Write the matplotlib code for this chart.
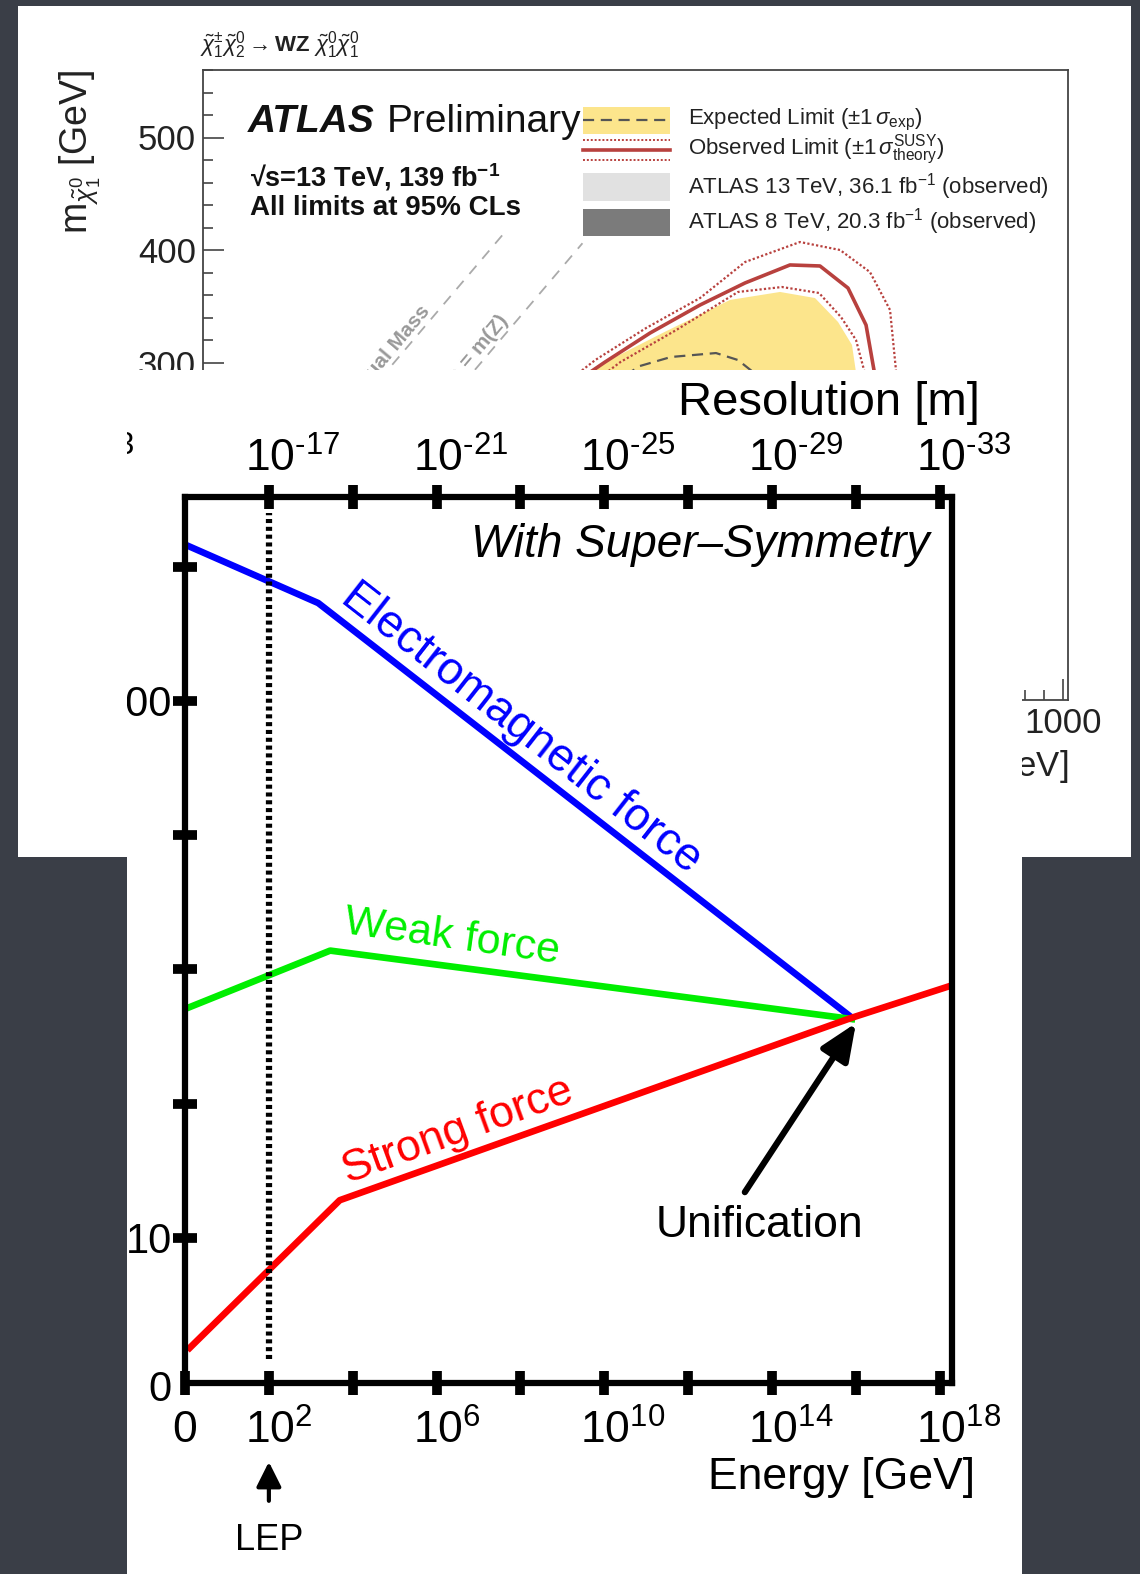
import matplotlib
matplotlib.use('Agg')
import matplotlib.pyplot as plt
from matplotlib.patches import Rectangle
from matplotlib.transforms import Bbox, TransformedBbox, ScaledTranslation
from matplotlib.ticker import FixedLocator, MultipleLocator, NullLocator, FuncFormatter

plt.rcParams['font.family'] = ['Liberation Sans', 'DejaVu Sans']
plt.rcParams['mathtext.fontset'] = 'custom'
plt.rcParams['mathtext.rm'] = 'Liberation Sans'
plt.rcParams['mathtext.it'] = 'Liberation Sans:italic'
plt.rcParams['mathtext.bf'] = 'Liberation Sans:bold'

W, H = 1140, 1574

# ---------------- unification plot (energy in GeV, inverse strength) ----------------
em_energy = [1.1, 1.5e3, 8e15]
em_inverse = [61.6, 57.3, 26.4]
weak_energy = [1.1, 2.9e3, 8e15]
weak_inverse = [27.1, 31.4, 26.3]
strong_energy = [1.3, 4.9e3, 8e15, 1.9e18]
strong_inverse = [1.8, 12.8, 26.4, 28.8]
lep_energy = 1e2
lep_range = [1.0, 64.0]
unification_point = (1e16, 26.0)

energy_ticks = [1e0, 1e2, 1e4, 1e6, 1e8, 1e10, 1e12, 1e14, 1e16, 1e18]
energy_labels = ['0', '$10^{2}$', '', '$10^{6}$', '', '$10^{10}$', '', '$10^{14}$', '', '$10^{18}$']
resolution_labels = ['$10^{\u201017}$', '', '$10^{\u201021}$', '', '$10^{\u201025}$', '',
                     '$10^{\u201029}$', '', '$10^{\u201033}$']
inverse_ticks = [10, 20, 30, 40, 50, 60]
inverse_labels = ['10', '', '', '', '100', '']

# ---------------- ATLAS background plot (GeV) ----------------
obs_x = [470.0, 520.6, 567.7, 620.0, 667.1, 714.1, 745.5, 774.8, 793.7, 802.0, 804.1]
obs_y = [271.1, 300.4, 326.2, 351.1, 370.7, 386.7, 385.8, 366.2, 333.3, 293.3, 266.7]
obs_up_x = [463.5, 510.4, 563.7, 620.0, 667.1, 724.6, 766.5, 797.8, 818.8, 825.0, 826.1]
obs_up_y = [271.1, 302.2, 330.7, 357.3, 389.3, 407.1, 400.0, 380.4, 346.7, 293.3, 266.7]
obs_dn_x = [490.9, 536.7, 595.2, 659.7, 705.8, 744.5, 767.5, 783.2, 791.6, 793.7]
obs_dn_y = [271.1, 300.4, 328.9, 362.7, 367.1, 361.8, 340.4, 320.0, 293.3, 266.7]
band_x = [475.2, 521.1, 580.7, 651.4, 703.7, 740.3, 764.4, 779.0, 787.4, 780, 700, 600, 520, 470]
band_y = [271.1, 300.4, 326.2, 355.6, 362.7, 357.3, 336.0, 315.6, 266.7, 230, 215, 220, 240, 255]
exp_x = [525.8, 557.2, 589.6, 636.7, 659.7, 675.4, 682.8]
exp_y = [280.0, 296.9, 304.9, 308.4, 302.2, 291.6, 280.0]
equal_mass_x = [150, 416]
mz_line_x = [250, 497]
z_mass = 91

legend_labels = [r'Expected Limit ($\pm1\,\sigma_{\mathrm{exp}}$)',
                 r'Observed Limit ($\pm1\,\sigma^{\mathrm{SUSY}}_{\mathrm{theory}}$)',
                 r'ATLAS 13 TeV, 36.1 fb$^{-1}$ (observed)',
                 r'ATLAS 8 TeV, 20.3 fb$^{-1}$ (observed)']

yellow = '#fce58c'
obs_red = '#b8413e'


def fig_box(x0, y0, x1, y1):
    # pixel box with top-left origin -> figure fraction rect
    return [x0 / W, 1 - y1 / H, (x1 - x0) / W, (y1 - y0) / H]


fig = plt.figure(figsize=(W / 100, H / 100), dpi=100)
fig.patch.set_facecolor('#3a3e47')

# white slide image behind
fig.add_artist(Rectangle((18 / W, 1 - 857 / H), (1131 - 18) / W, (857 - 6) / H,
                         transform=fig.transFigure, facecolor='white', edgecolor='none', zorder=0))

atlas = fig.add_axes(fig_box(203, 70, 1068, 700))
atlas.set_zorder(1)
atlas.set_xlim(100, 1005)
atlas.set_ylim(0, 560)
atlas.fill(band_x, band_y, color=yellow, lw=0)
atlas.plot(exp_x, exp_y, color='#555555', lw=1.6, ls=(0, (5, 3)))
atlas.plot(obs_up_x, obs_up_y, color=obs_red, lw=1.6, ls=(0, (1, 1)))
atlas.plot(obs_dn_x, obs_dn_y, color=obs_red, lw=1.6, ls=(0, (1, 1)))
atlas.plot(obs_x, obs_y, color=obs_red, lw=2.6)
atlas.plot(equal_mass_x, equal_mass_x, color='#aaaaaa', lw=1.3, ls=(0, (6, 5)))
atlas.plot(mz_line_x, [x - z_mass for x in mz_line_x], color='#aaaaaa', lw=1.3, ls=(0, (6, 5)))
atlas.text(341, 343, 'Equal Mass', color='#999999', fontsize=15, fontweight='bold',
           rotation=50, rotation_mode='anchor', ha='right', va='bottom')
atlas.text(425, 334, r'$\Delta$m = m(Z)', color='#999999', fontsize=15, fontweight='bold',
           rotation=50, rotation_mode='anchor', ha='right', va='bottom')

for s in atlas.spines.values():
    s.set_color('#444444')
    s.set_linewidth(1.3)
atlas.xaxis.set_major_locator(MultipleLocator(100))
atlas.xaxis.set_minor_locator(MultipleLocator(20))
atlas.yaxis.set_major_locator(MultipleLocator(100))
atlas.yaxis.set_minor_locator(MultipleLocator(20))
# labels that sit under the front slide are left blank
atlas.xaxis.set_major_formatter(FuncFormatter(lambda v, p: f'{v:.0f}' if v >= 1000 else ''))
atlas.yaxis.set_major_formatter(FuncFormatter(lambda v, p: f'{v:.0f}' if v >= 300 else ''))
atlas.tick_params(which='both', direction='in', color='#444444', labelcolor='#222222',
                  labelsize=25, top=False, right=False)
atlas.tick_params(which='major', length=15, width=1.2, pad=5)
atlas.tick_params(which='minor', length=7, width=1.2)
atlas.text(-0.142, 1.0, r'm$_{\tilde{\chi}^{0}_{1}}$ [GeV]', transform=atlas.transAxes,
           rotation=90, ha='center', va='top', fontsize=27, color='#222222')
atlas.text(1.0, -0.111, r'm$_{\tilde{\chi}^{\pm}_{1}/\tilde{\chi}^{0}_{2}}$ [GeV]', transform=atlas.transAxes,
           ha='right', va='center', fontsize=25, color='#222222')
atlas.text(-0.004, 1.04, r'$\tilde{\chi}^{\pm}_{1}\tilde{\chi}^{0}_{2}\rightarrow\mathbf{WZ}\ \tilde{\chi}^{0}_{1}\tilde{\chi}^{0}_{1}$',
           transform=atlas.transAxes, ha='left', va='center', fontsize=16, color='#222222')

atlas_word = atlas.text(0.052, 0.9175, 'ATLAS', transform=atlas.transAxes, fontsize=28,
                        fontweight='bold', style='italic', ha='left', va='center', color='#111111')
atlas.annotate('Preliminary', xy=(1, 0), xycoords=atlas_word, xytext=(9, 0), textcoords='offset points',
               ha='left', va='bottom', fontsize=28, color='#111111')
atlas.text(0.054, 0.8294, '\u221as=13 TeV, 139 fb$^{\\mathbf{-1}}$', transform=atlas.transAxes,
           fontsize=19.5, fontweight='bold', ha='left', va='center', color='#111111')
atlas.text(0.054, 0.7817, 'All limits at 95% CLs', transform=atlas.transAxes,
           fontsize=20, fontweight='bold', ha='left', va='center', color='#111111')

# legend drawn by hand in axes fraction
lx, lw_ = 0.4393, 0.1006
row_y = [0.9206, 0.873, 0.8143, 0.7587]
rh = 0.0429
atlas.add_patch(Rectangle((lx, row_y[0] - rh / 2), lw_, rh, transform=atlas.transAxes, color=yellow, lw=0))
atlas.plot([lx, lx + lw_], [row_y[0]] * 2, transform=atlas.transAxes, color='#555555', lw=1.6, ls=(0, (5, 3)))
atlas.plot([lx, lx + lw_], [row_y[1]] * 2, transform=atlas.transAxes, color=obs_red, lw=2.6)
atlas.plot([lx, lx + lw_], [row_y[1] + 0.016] * 2, transform=atlas.transAxes, color=obs_red, lw=1.4, ls=(0, (1, 1)))
atlas.plot([lx, lx + lw_], [row_y[1] - 0.016] * 2, transform=atlas.transAxes, color=obs_red, lw=1.4, ls=(0, (1, 1)))
atlas.add_patch(Rectangle((lx, row_y[2] - rh / 2), lw_, rh, transform=atlas.transAxes, color='#e1e1e1', lw=0))
atlas.add_patch(Rectangle((lx, row_y[3] - rh / 2), lw_, rh, transform=atlas.transAxes, color='#7b7b7b', lw=0))
for yy, lab in zip(row_y, legend_labels):
    atlas.text(0.5607, yy, lab, transform=atlas.transAxes, fontsize=16, ha='left', va='center', color='#222222')

# ---------------- unification slide image on top ----------------
fig.add_artist(Rectangle((127 / W, 0), (1022 - 127) / W, 1 - 370 / H,
                         transform=fig.transFigure, facecolor='white', edgecolor='none', zorder=2))
panel_clip = TransformedBbox(Bbox([[127 / W, 0], [1022 / W, 1 - 370 / H]]), fig.transFigure)

ax = fig.add_axes(fig_box(185, 497, 952, 1383))
ax.set_zorder(3)
ax.set_xscale('log')
ax.set_xlim(1, 10 ** 18.29)
ax.set_ylim(-0.82, 65.2)

ax.plot(em_energy, em_inverse, color='#0000ff', lw=4.8)
ax.plot(weak_energy, weak_inverse, color='#00ee00', lw=4.8)
ax.plot(strong_energy, strong_inverse, color='#ff0000', lw=4.8)
ax.plot([lep_energy, lep_energy], lep_range, color='black', lw=4.5, ls=(0, (0.65, 0.6)),
        dash_capstyle='butt')

for s in ax.spines.values():
    s.set_linewidth(4.5)
ax.xaxis.set_major_locator(FixedLocator(energy_ticks))
ax.xaxis.set_minor_locator(NullLocator())
ax.set_xticklabels(energy_labels)
ax.set_yticks(inverse_ticks, inverse_labels)
ax.tick_params(direction='inout', length=17, width=7, top=False, right=False)
ax.tick_params(axis='x', labelsize=32, pad=11)
ax.tick_params(axis='y', labelsize=30, pad=1)

top = ax.twiny()
top.set_zorder(4)
top.set_xscale('log')
top.set_xlim(ax.get_xlim())
top.xaxis.set_major_locator(FixedLocator(energy_ticks[1:]))
top.xaxis.set_minor_locator(NullLocator())
top.set_xticklabels(resolution_labels)
top.tick_params(direction='inout', length=17, width=7, labelsize=32, pad=3)
for s in top.spines.values():
    s.set_visible(False)

# powers of ten: keep the "10" centred on the tick, exponent hanging to the right
shift = ScaledTranslation(-24 / 100, 0, fig.dpi_scale_trans)
for lab in ax.get_xticklabels() + top.get_xticklabels():
    if lab.get_text().startswith('$10'):
        lab.set_horizontalalignment('left')
        lab.set_transform(lab.get_transform() + shift)

for t in ax.yaxis.get_major_ticks():
    t.label1.set_clip_box(panel_clip)
    t.label1.set_clip_on(True)

# left-over fragment of a resolution label cut by the slide edge
frag = fig.text(134 / W, 1 - 481 / H, '$10^{\u201013}$', fontsize=32, ha='right', va='bottom')
frag.set_clip_box(panel_clip)
frag.set_clip_on(True)
frag.set_zorder(5)

ax.text(-0.0326, -0.008, '0', transform=ax.transAxes, fontsize=30, ha='center', va='center')
ax.text(1.0365, 1.106, 'Resolution [m]', transform=ax.transAxes, fontsize=34, ha='right', va='center')
ax.text(1.03, -0.107, 'Energy [GeV]', transform=ax.transAxes, fontsize=32, ha='right', va='center')

ax.text(5.8e17, 61.6, 'With Super\u2013Symmetry', style='italic', fontsize=33, ha='right', va='center')
ax.text(10 ** 8.03, 48.0, 'Electromagnetic force', color='#0000ff', fontsize=33, rotation=-38,
        rotation_mode='anchor', ha='center', va='center')
ax.text(10 ** 6.37, 32.4, 'Weak force', color='#00ee00', fontsize=31, rotation=-8,
        rotation_mode='anchor', ha='center', va='center')
ax.text(10 ** 6.5, 17.9, 'Strong force', color='#ff0000', fontsize=32, rotation=20,
        rotation_mode='anchor', ha='center', va='center')
ax.text(10 ** 13.7, 10.95, 'Unification', fontsize=32, ha='center', va='center')
ax.annotate('', xy=unification_point, xytext=(10 ** 13.35, 13.4),
            arrowprops=dict(arrowstyle='-|>,head_length=0.75,head_width=0.32', lw=4.5,
                            color='black', mutation_scale=30, shrinkA=0, shrinkB=0))

xt = ax.get_xaxis_transform()
ax.annotate('', xy=(lep_energy, -0.089), xycoords=xt, xytext=(lep_energy, -0.133), textcoords=xt,
            arrowprops=dict(arrowstyle='-|>,head_length=0.6,head_width=0.3', lw=3, color='black',
                            mutation_scale=25, shrinkA=0, shrinkB=0), annotation_clip=False)
ax.text(lep_energy, -0.178, 'LEP', transform=xt, fontsize=26, ha='center', va='center')

fig.savefig('out.png', dpi=100, facecolor=fig.get_facecolor())
